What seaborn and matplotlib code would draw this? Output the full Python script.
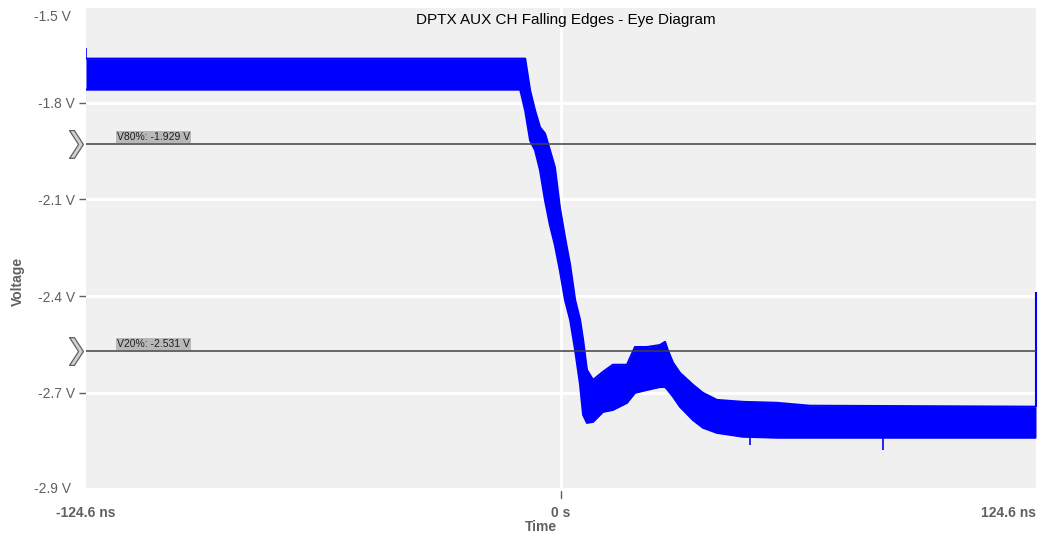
import numpy as np
import seaborn as sns
import matplotlib.pyplot as plt
from matplotlib.path import Path
from matplotlib.transforms import blended_transform_factory

# eye diagram envelope (time in ns, volts)
time_ns = [-124.6, -10.7, -9.4, -8.1, -6.8, -5.5, -4.2, -2.9, -1.6, -0.3,
           1.05, 2.4, 3.7, 5.0, 5.8, 6.8, 8.4, 11.0, 13.6, 17.3,
           19.4, 22.5, 25.9, 27.3, 28.0, 29.4, 31.2, 34.6, 37.2, 40.9,
           47.7, 56.6, 65.3, 124.6]
upper_v = [-1.664, -1.664, -1.664, -1.763, -1.825, -1.877, -1.896, -1.948, -2.001, -2.125,
           -2.218, -2.304, -2.412, -2.474, -2.536, -2.629, -2.660, -2.635, -2.613, -2.613,
           -2.558, -2.558, -2.552, -2.542, -2.567, -2.607, -2.638, -2.675, -2.700, -2.722,
           -2.728, -2.731, -2.740, -2.743]
lower_v = [-1.760, -1.760, -1.825, -1.918, -1.948, -2.010, -2.103, -2.180, -2.242, -2.320,
           -2.412, -2.474, -2.567, -2.675, -2.768, -2.793, -2.790, -2.759, -2.753, -2.731,
           -2.700, -2.691, -2.682, -2.682, -2.691, -2.712, -2.743, -2.784, -2.808, -2.824,
           -2.836, -2.839, -2.839, -2.839]

# a few isolated noise spikes that stick out of the band
spike_t = [-124.6, 49.5, 84.4]
spike_lo = [-1.664, -2.861, -2.876]
spike_hi = [-1.630, -2.836, -2.839]

# wrapped trace at the right edge
wrap_t = 124.6
wrap_lo, wrap_hi = -2.743, -2.388

marker_names = ["V80%: -1.929 V", "V20%: -2.531 V"]
marker_levels = [-1.929, -2.571]

y_grid = [-1.8, -2.1, -2.4, -2.7]
y_grid_labels = ["-1.8 V", "-2.1 V", "-2.4 V", "-2.7 V"]
y_end_labels = ["-1.5 V", "-2.9 V"]
x_ticks = [-124.6, 0, 124.6]
x_tick_labels = ["-124.6 ns", "0 s", "124.6 ns"]

sns.set_theme(style="white")
plt.rcParams['font.family'] = ['Liberation Sans', 'DejaVu Sans']

fig = plt.figure(figsize=(10.45, 5.40), dpi=100)
ax = fig.add_axes([86 / 1045, 1 - 488 / 540, 950 / 1045, 480 / 540])
ax.set_facecolor('#f0f0f0')
for s in ax.spines.values():
    s.set_visible(False)

ax.set_xlim(-124.6, 124.6)
ax.set_ylim(-2.995, -1.507)

# white grid
for g in y_grid:
    ax.axhline(g, color='white', lw=2, zorder=1)
ax.axvline(0, color='white', lw=2, zorder=1)

# trace
blue = '#0000ff'
sns.lineplot(x=time_ns, y=upper_v, ax=ax, color=blue, lw=1.5, estimator=None, sort=False, zorder=3)
sns.lineplot(x=time_ns, y=lower_v, ax=ax, color=blue, lw=1.5, estimator=None, sort=False, zorder=3)
ax.fill_between(time_ns, lower_v, upper_v, color=blue, lw=0, zorder=3)
ax.vlines(spike_t, spike_lo, spike_hi, color=blue, lw=1.2, zorder=3)
ax.vlines([wrap_t], [wrap_lo], [wrap_hi], color=blue, lw=1.5, zorder=3, clip_on=False)

# marker lines with chevron handles and labels
chevron = Path([(-0.5, 1), (-0.15, 1), (0.5, 0), (-0.15, -1), (-0.5, -1), (0.15, 0), (-0.5, 1)],
               [Path.MOVETO] + [Path.LINETO] * 5 + [Path.CLOSEPOLY])
trans = blended_transform_factory(ax.transAxes, ax.transData)
for name, lvl in zip(marker_names, marker_levels):
    ax.axhline(lvl, color='#404040', lw=1.1, zorder=4)
    ax.plot([-0.0105], [lvl], marker=chevron, markersize=20, color='#d0d0d0',
            markeredgecolor='#606060', markeredgewidth=0.9, transform=trans, clip_on=False, zorder=5)
    ax.annotate(name, xy=(0.0326, lvl), xycoords=trans, xytext=(0, 2), textcoords='offset pixels',
                ha='left', va='bottom', fontsize=7.5, color='#202020',
                bbox=dict(boxstyle='square,pad=0.1', fc='#b8b8b8', ec='none'), zorder=6)

# axes ticks
ax.set_yticks(y_grid)
ax.set_yticklabels(y_grid_labels)
ax.tick_params(axis='y', length=5, width=1, color='#606060', pad=3, labelsize=10, labelcolor='#606060', left=True)
for lab, yy, va in zip(y_end_labels, [1, 0], ['top', 'center']):
    ax.annotate(lab, xy=(0, yy), xycoords='axes fraction', xytext=(-15, -2 if va == 'top' else -1),
                textcoords='offset pixels', ha='right', va=va, fontsize=10, color='#606060')

ax.set_xticks(x_ticks)
ax.set_xticklabels(x_tick_labels, fontweight='bold')
ax.tick_params(axis='x', length=0, pad=13, labelsize=10, labelcolor='#606060', bottom=True)
ax.get_xticklabels()[0].set_ha('center')
ax.get_xticklabels()[-1].set_ha('right')
# small tick mark only under 0 s
xtrans = blended_transform_factory(ax.transData, ax.transAxes)
ax.plot([0, 0], [-0.006, -0.021], color='#606060', lw=1, transform=xtrans, clip_on=False)

ax.text(0.505, 0.975, "DPTX AUX CH Falling Edges - Eye Diagram", transform=ax.transAxes,
        ha='center', va='center', fontsize=11, color='black')
fig.text(541 / 1045, 1 - 527 / 540, "Time", ha='center', va='center', fontsize=10,
         fontweight='bold', color='#606060')
fig.text(18 / 1045, 1 - 281 / 540, "Voltage", ha='center', va='center', rotation=90,
         fontsize=10, fontweight='bold', color='#606060')

fig.savefig("out.png", dpi=100, facecolor='white')
